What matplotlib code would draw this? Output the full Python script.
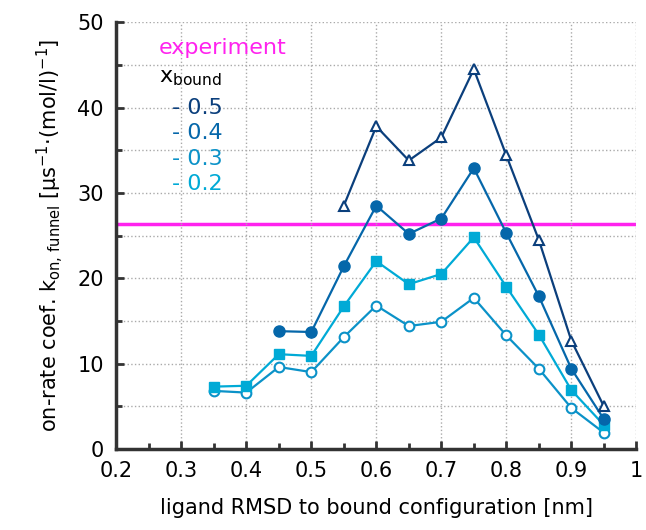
import matplotlib
matplotlib.use("Agg")
import matplotlib.pyplot as plt
from matplotlib.ticker import MultipleLocator

x_tri = [0.55, 0.6, 0.65, 0.7, 0.75, 0.8, 0.85, 0.9, 0.95]
y_tri = [28.5, 37.8, 33.8, 36.5, 44.5, 34.4, 24.5, 12.7, 5.0]
x_dot = [0.45, 0.5, 0.55, 0.6, 0.65, 0.7, 0.75, 0.8, 0.85, 0.9, 0.95]
y_dot = [13.8, 13.7, 21.4, 28.5, 25.2, 27.0, 32.9, 25.3, 17.9, 9.4, 3.5]
x_sq = [0.35, 0.4, 0.45, 0.5, 0.55, 0.6, 0.65, 0.7, 0.75, 0.8, 0.85, 0.9, 0.95]
y_sq = [7.3, 7.4, 11.1, 10.9, 16.7, 22.0, 19.3, 20.5, 24.8, 19.0, 13.4, 6.9, 2.8]
y_open = [6.8, 6.6, 9.6, 9.0, 13.1, 16.8, 14.4, 14.9, 17.7, 13.3, 9.4, 4.8, 1.9]
experiment = 26.4
labels = ["- 0.5", "- 0.4", "- 0.3", "- 0.2"]

C5, C4, C3, C2 = "#0b3f7c", "#0567aa", "#0b92c8", "#00aad6"

fig, ax = plt.subplots(figsize=(6.46, 5.30), dpi=100)
ax.axhline(experiment, color="#ff22ee", lw=2.5, zorder=1)
ax.plot(x_sq, y_open, color=C3, lw=1.6, marker="o", ms=7, mfc="white", mew=1.5)
ax.plot(x_sq, y_sq, color=C2, lw=1.6, marker="s", ms=7)
ax.plot(x_dot, y_dot, color=C4, lw=1.6, marker="o", ms=8)
ax.plot(x_tri, y_tri, color=C5, lw=1.6, marker="^", ms=7, mfc="white", mew=1.5)

ax.set_xlim(0.2, 1.0)
ax.set_ylim(0, 50)
ax.xaxis.set_minor_locator(MultipleLocator(0.05))
ax.yaxis.set_major_locator(MultipleLocator(10))
ax.yaxis.set_minor_locator(MultipleLocator(5))
ax.set_xticks([0.2, 0.3, 0.4, 0.5, 0.6, 0.7, 0.8, 0.9, 1.0])
ax.set_xticklabels(["0.2", "0.3", "0.4", "0.5", "0.6", "0.7", "0.8", "0.9", "1"])
ax.grid(True, which="major", axis="x", ls=":", color="#aaaaaa", lw=1)
ax.grid(True, which="both", axis="y", ls=":", color="#aaaaaa", lw=1)
ax.tick_params(which="both", direction="in", width=2, labelsize=15, color="#333333")
ax.tick_params(which="major", length=6, pad=9)
ax.tick_params(which="minor", length=4)
for s in ["top", "right"]:
    ax.spines[s].set_visible(False)
for s in ["left", "bottom"]:
    ax.spines[s].set_linewidth(2.5)
    ax.spines[s].set_color("#333333")

ax.set_xlabel("ligand RMSD to bound configuration [nm]", fontsize=15, labelpad=12)
ax.set_ylabel(r"on-rate coef. k$_{\mathregular{on,\,funnel}}$ [µs$^{\mathregular{-1}}$·(mol/l)$^{\mathregular{-1}}$]",
              fontsize=15, labelpad=8)

ax.text(0.265, 47.0, "experiment", color="#ff22ee", fontsize=16, va="center")
ax.text(0.265, 43.5, r"x$_{\mathregular{bound}}$", color="black", fontsize=16, va="center")
for i, (lab, c) in enumerate(zip(labels, [C5, C4, C3, C2])):
    ax.text(0.285, 40.0 - i * 3.0, lab, color=c, fontsize=16, va="center")

fig.subplots_adjust(left=0.18, right=0.985, bottom=0.153, top=0.958)
fig.savefig("out.png")
